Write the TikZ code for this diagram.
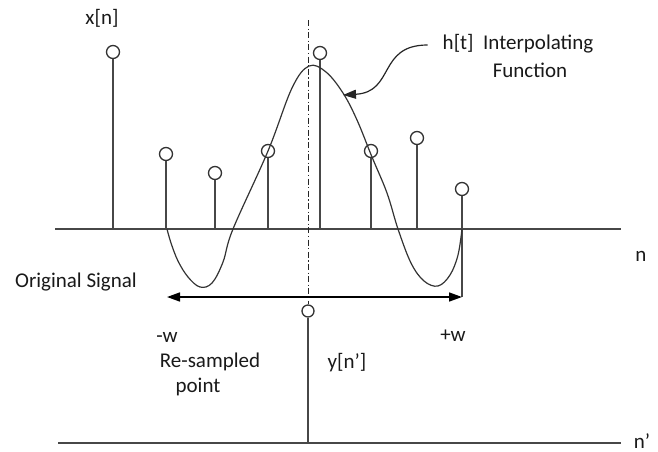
\documentclass[tikz,border=0pt]{standalone}
\usepackage{fontspec}
\setmainfont{Carlito}
\usetikzlibrary{arrows.meta}
\begin{document}
\begin{tikzpicture}[x=1pt,y=-1pt,
  lbl/.style={font=\fontsize{21}{25}\selectfont, text=black!90, inner sep=0pt},
  axisline/.style={line width=1.6pt, draw=black!72},
  stemline/.style={line width=1.6pt, draw=black!72},
  samp/.style={circle, draw=black!80, line width=1.3pt, minimum size=13pt, inner sep=0pt},
  curveline/.style={line width=1.2pt, draw=black!80},
  centerline/.style={line width=1pt, draw=black!85, dash pattern=on 6pt off 2.5pt on 1.2pt off 2.5pt},
  warrow/.style={line width=1.6pt, draw=black, {Triangle[length=13pt,width=9pt]}-{Triangle[length=13pt,width=9pt]}},
  harrow/.style={line width=1.2pt, draw=black!85, -{Triangle[length=13pt,width=9pt]}}
]
\useasboundingbox (0,0) rectangle (658,451);

% axes
\coordinate (a1) at (55,229);
\coordinate (a2) at (621,229);
\coordinate (c1) at (58,443);
\coordinate (c2) at (621,443);
\draw[axisline] (a1) -- (a2);
\draw[axisline] (c1) -- (c2);

% samples of x[n]
\foreach \i/\x/\y in {1/113/52, 2/166/154, 3/215/173, 4/268/151, 5/320/53, 6/371/151, 7/417/138, 8/462/189} {
  \node[samp] (s\i) at (\x,\y) {};
  \coordinate (b\i) at (\x,229);
}
\foreach \i in {1,...,7} {
  \draw[stemline] (s\i) -- (b\i);
}
\coordinate (wr) at (462,297);
\coordinate (wl) at (167,297);
\draw[stemline] (s8) -- (wr);

% interpolating function
\draw[curveline] plot[smooth, tension=0.6] coordinates {
  (167,229) (171,243) (178,261) (188,277) (200,287) (212,283) (223,262)
  (233,229) (268,151) (292,88) (309,66) (326,72) (343,93) (357,120)
  (372,157) (387,193) (398,229) (411,263) (424,281) (438,286) (450,275)
  (458,255) (462,229)};

% re-sampled point
\node[samp, minimum size=12pt] (r) at (308,311) {};
\coordinate (rb) at (308,443);
\draw[stemline] (r) -- (rb);
\coordinate (dtop) at (308,20);
\draw[centerline] (dtop) -- (r.north);

% width arrow
\draw[warrow] (wl) -- (wr);

% labels
\node[lbl] (xn) at (102,18) {x[n]};
\node[lbl] (nlab) at (641,256) {n};
\node[lbl] (nplab) at (642,441) {n’};
\node[lbl] (orig) at (76,282) {Original Signal};
\node[lbl] (mw) at (167,337) {-w};
\node[lbl] (pw) at (453,336) {+w};
\node[lbl] (rs) at (210,362) {Re-sampled};
\node[lbl] (pt) at (198,387) {point};
\node[lbl] (yn) at (347,363) {y[n’]};
\node[lbl] (ht) at (518,44) {h[t]\ \ Interpolating};
\node[lbl] (fn) at (530,70) {Function};

\coordinate (htip) at (343,95);
\draw[harrow] ([xshift=-15pt,yshift=-1pt]ht.west) .. controls +(-50,0) and +(52,-3) .. (htip);
\end{tikzpicture}
\end{document}
